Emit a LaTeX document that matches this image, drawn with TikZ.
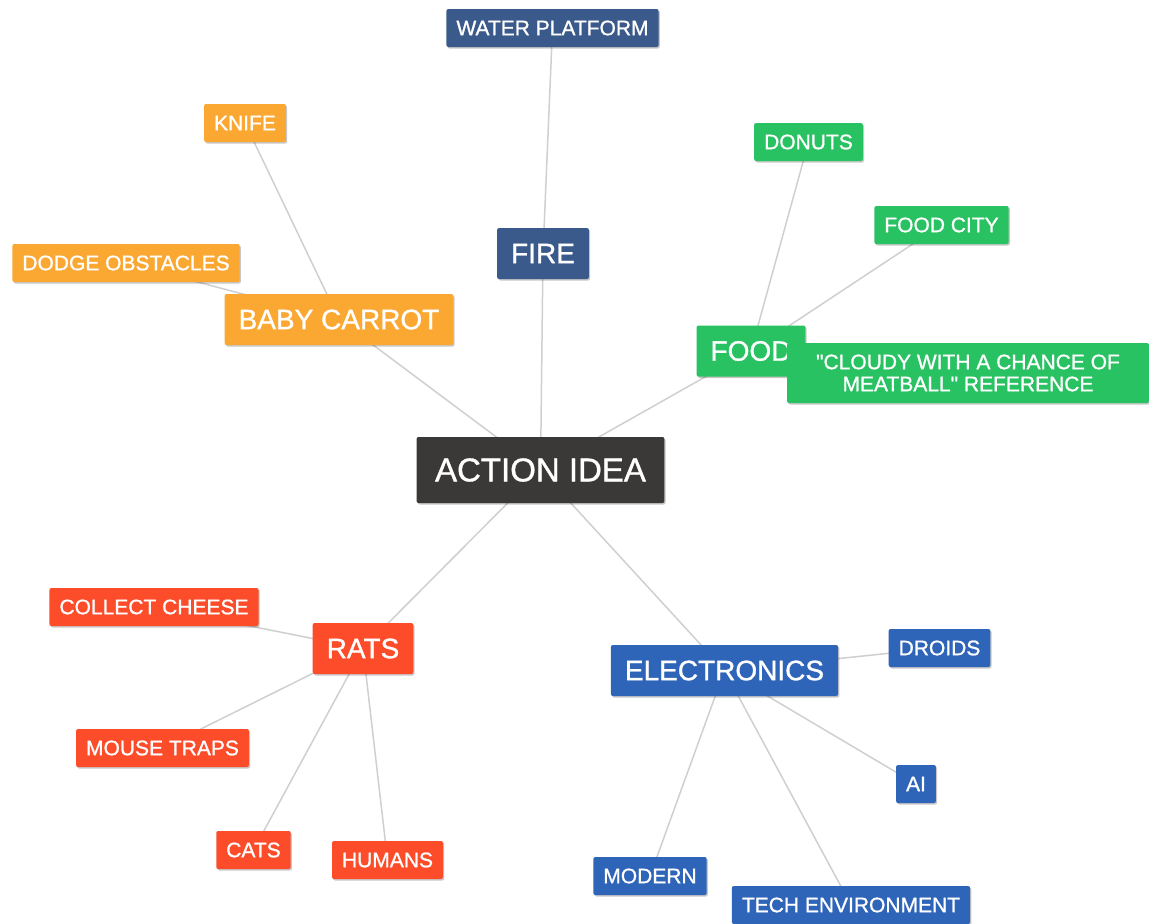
\documentclass[tikz,border=0pt]{standalone}
\usepackage{fontspec}
\setmainfont{Liberation Sans}[Ligatures=TeXOff, BoldFont={Liberation Sans}, BoldFeatures={FakeBold=1}]
\usetikzlibrary{shadows,backgrounds}
\definecolor{cdark}{HTML}{3B3838}
\definecolor{cnavy}{HTML}{3A5A8C}
\definecolor{corange}{HTML}{FBA833}
\definecolor{cgreen}{HTML}{29C262}
\definecolor{cred}{HTML}{FC4C2A}
\definecolor{cblue}{HTML}{2E65B8}
\definecolor{linkgray}{HTML}{CFCFCF}
\begin{document}
\begin{tikzpicture}[x=1pt,y=-1pt,
  box/.style={rounded corners=2pt, text=white, inner sep=0pt, align=center,
    drop shadow={shadow xshift=1.2pt, shadow yshift=-1.5pt, opacity=0.22, fill=black}},
  sm/.style={box, font=\fontsize{21}{22}\selectfont\bfseries, minimum height=38pt, inner xsep=10pt},
  md/.style={box, font=\fontsize{28}{30}\selectfont\bfseries, minimum height=51pt, inner xsep=14pt},
  lg/.style={box, font=\fontsize{33}{36}\selectfont\bfseries, minimum height=66pt, inner xsep=18.5pt},
  link/.style={draw=linkgray, line width=1.5pt}]
\useasboundingbox (0,0) rectangle (1149,924);

\node[lg, fill=cdark] (action) at (540.5,470) {ACTION IDEA};

\node[sm, fill=cnavy] (water) at (552.5,28) {WATER PLATFORM};
\node[md, fill=cnavy] (fire) at (543,253.5) {FIRE};

\node[sm, fill=corange] (knife) at (245,123) {KNIFE};
\node[sm, fill=corange] (dodge) at (126,263) {DODGE OBSTACLES};
\node[md, fill=corange] (carrot) at (339,319.5) {BABY CARROT};

\node[sm, fill=cgreen] (donuts) at (808.5,142) {DONUTS};
\node[sm, fill=cgreen] (foodcity) at (941.5,225) {FOOD CITY};
\node[md, fill=cgreen] (food) at (751,351) {FOOD};
\node[sm, fill=cgreen, minimum width=362pt, minimum height=60pt] (cloudy) at (968,373) {"CLOUDY WITH A CHANCE OF\\MEATBALL" REFERENCE};

\node[sm, fill=cred] (cheese) at (154,607) {COLLECT CHEESE};
\node[md, fill=cred] (rats) at (363,648.5) {RATS};
\node[sm, fill=cred] (traps) at (162.5,748) {MOUSE TRAPS};
\node[sm, fill=cred] (cats) at (253.5,850) {CATS};
\node[sm, fill=cred] (humans) at (387.5,860) {HUMANS};

\node[md, fill=cblue] (elec) at (724.5,670.5) {ELECTRONICS};
\node[sm, fill=cblue] (droids) at (939.5,648) {DROIDS};
\node[sm, fill=cblue] (ai) at (916,784) {AI};
\node[sm, fill=cblue] (modern) at (650,876) {MODERN};
\node[sm, fill=cblue] (tech) at (851,905) {TECH ENVIRONMENT};

\begin{pgfonlayer}{background}
\draw[link] (action.center) -- (fire.center);
\draw[link] (fire.center) -- (water.center);
\draw[link] (action.center) -- (carrot.center);
\draw[link] (carrot.center) -- (knife.center);
\draw[link] (carrot.center) -- (dodge.center);
\draw[link] (action.center) -- (food.center);
\draw[link] (food.center) -- (donuts.center);
\draw[link] (food.center) -- (foodcity.center);
\draw[link] (food.center) -- (cloudy.center);
\draw[link] (action.center) -- (rats.center);
\draw[link] (rats.center) -- (cheese.center);
\draw[link] (rats.center) -- (traps.center);
\draw[link] (rats.center) -- (cats.center);
\draw[link] (rats.center) -- (humans.center);
\draw[link] (action.center) -- (elec.center);
\draw[link] (elec.center) -- (droids.center);
\draw[link] (elec.center) -- (ai.center);
\draw[link] (elec.center) -- (modern.center);
\draw[link] (elec.center) -- (tech.center);
\end{pgfonlayer}
\end{tikzpicture}
\end{document}
